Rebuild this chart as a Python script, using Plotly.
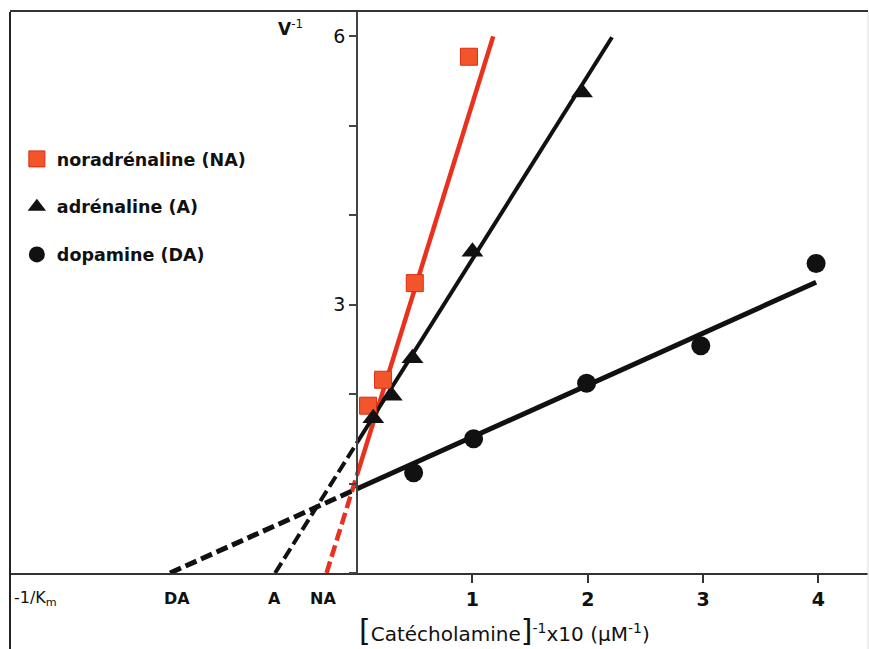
import plotly.graph_objects as go

# ---------------- data ----------------
series_names = ["noradrénaline (NA)", "adrénaline (A)", "dopamine (DA)"]

na_x = [0.095, 0.225, 0.50, 0.97]
na_y = [1.87, 2.16, 3.24, 5.77]

a_x = [0.14, 0.30, 0.48, 1.00, 1.95]
a_y = [1.73, 1.98, 2.40, 3.59, 5.37]

da_x = [0.49, 1.01, 1.99, 2.98, 3.98]
da_y = [1.12, 1.50, 2.12, 2.54, 3.46]

# Lineweaver-Burk fitted lines: intercept (1/Vmax), slope (Km/Vmax), end of solid part
fit_intercept = [1.10, 1.458, 0.941]
fit_slope = [4.15, 2.05, 0.580]
fit_xmax = [1.18, 2.21, 3.98]

intercept_labels = ["NA", "A", "DA"]
intercept_label_x = [-0.295, -0.72, -1.56]

x_tick_vals = [1, 2, 3, 4]
y_tick_vals = [3, 6]

# ---------------- styling ----------------
FONT = "DejaVu Sans"
RED = "#e8321e"
SQ_FILL = "#f2552a"
BLACK = "#111111"
line_colors = [RED, BLACK, BLACK]
line_widths = [4.5, 4, 5]

fig = go.Figure()

# fitted lines: dashed extrapolation to -1/Km, solid from x = 0
for b, m, xm, col, lw in zip(fit_intercept, fit_slope, fit_xmax, line_colors, line_widths):
    x_int = -b / m
    fig.add_trace(go.Scatter(
        x=[x_int, 0], y=[0, b], mode="lines",
        line=dict(color=col, width=lw, dash="12px,5px"),
        showlegend=False, hoverinfo="skip", cliponaxis=False))
    fig.add_trace(go.Scatter(
        x=[0, xm], y=[b, b + m * xm], mode="lines",
        line=dict(color=col, width=lw),
        showlegend=False, hoverinfo="skip", cliponaxis=False))

# data points
fig.add_trace(go.Scatter(
    x=na_x, y=na_y, mode="markers", name=series_names[0], legendgroup="na",
    marker=dict(symbol="square", size=17, color=SQ_FILL, line=dict(color="#e02a14", width=1)),
    cliponaxis=False))
fig.add_trace(go.Scatter(
    x=a_x, y=a_y, mode="markers", name=series_names[1], legendgroup="a",
    marker=dict(symbol="triangle-up", size=19, color=BLACK, line=dict(width=0)),
    cliponaxis=False))
fig.add_trace(go.Scatter(
    x=da_x, y=da_y, mode="markers", name=series_names[2], legendgroup="da",
    marker=dict(symbol="circle", size=19, color=BLACK, line=dict(width=0)),
    cliponaxis=False))

W, H = 869, 649
ML, MR, MT, MB = 10, 1, 12, 76
plot_w = W - ML - MR
plot_h = H - MT - MB
x_range = [-3.01, 4.43]
y_range = [0, 6.27]
y_axis_pos = (0 - x_range[0]) / (x_range[1] - x_range[0])


def py(pix):
    """pixel row -> paper y"""
    return (H - MB - pix) / plot_h


annotations = [
    dict(text="-1/K<sub>m</sub>", xref="paper", yref="paper", x=0.002, y=py(598),
         xanchor="left", yanchor="middle", showarrow=False,
         font=dict(family=FONT, size=16, color=BLACK)),
    dict(text="<b>V</b><sup>-1</sup>", xref="x", yref="paper", x=-0.58, y=py(28),
         xanchor="center", yanchor="middle", showarrow=False,
         font=dict(family=FONT, size=17, color=BLACK)),
    dict(text='<span style="font-size:30px">[</span>Catécholamine'
              '<span style="font-size:30px">]</span><sup>-1</sup>x10 (µM<sup>-1</sup>)',
         xref="x", yref="paper", x=1.28, y=py(630),
         xanchor="center", yanchor="middle", showarrow=False,
         font=dict(family=FONT, size=20, color=BLACK)),
]
for lab, lx in zip(intercept_labels, intercept_label_x):
    annotations.append(dict(text="<b>" + lab + "</b>", xref="x", yref="paper", x=lx, y=py(598),
                            xanchor="center", yanchor="middle", showarrow=False,
                            font=dict(family=FONT, size=16, color=BLACK)))

shapes = [
    dict(type="line", xref="paper", yref="paper", x0=0, x1=0, y0=1, y1=py(H + 2),
         line=dict(color="#222", width=2)),
    dict(type="line", xref="paper", yref="paper", x0=1, x1=1, y0=1, y1=py(H + 2),
         line=dict(color="#dddddd", width=1)),
]

fig.update_layout(
    width=W, height=H,
    margin=dict(l=ML, r=MR, t=MT, b=MB, pad=0),
    paper_bgcolor="white", plot_bgcolor="white",
    font=dict(family=FONT, color=BLACK),
    xaxis=dict(range=x_range, showgrid=False, zeroline=False,
               showline=True, linecolor="#333", linewidth=2, mirror=True,
               ticks="outside", ticklen=8, tickwidth=1.5, tickcolor="#333",
               tickvals=x_tick_vals,
               tickfont=dict(family=FONT, size=19, color=BLACK, weight="bold")),
    yaxis=dict(range=y_range, showgrid=False, zeroline=False,
               anchor="free", position=y_axis_pos,
               showline=True, linecolor="#444", linewidth=2,
               ticks="outside", ticklen=7, tickwidth=1.5, tickcolor="#444",
               tickvals=y_tick_vals,
               minor=dict(dtick=1, ticks="outside", ticklen=7, tickwidth=1.5,
                          tickcolor="#444", showgrid=False),
               tickfont=dict(family=FONT, size=19, color=BLACK)),
    legend=dict(x=0.008, y=py(141), xanchor="left", yanchor="top",
                bgcolor="rgba(0,0,0,0)", borderwidth=0,
                font=dict(family=FONT, size=17.5, color=BLACK, weight="bold"),
                tracegroupgap=22),
    annotations=annotations,
    shapes=shapes,
    showlegend=True,
)

fig.write_html(
    "out.html",
    config={"displayModeBar": False},
    post_script="document.body.style.margin='0';document.body.style.overflow='hidden';",
)
